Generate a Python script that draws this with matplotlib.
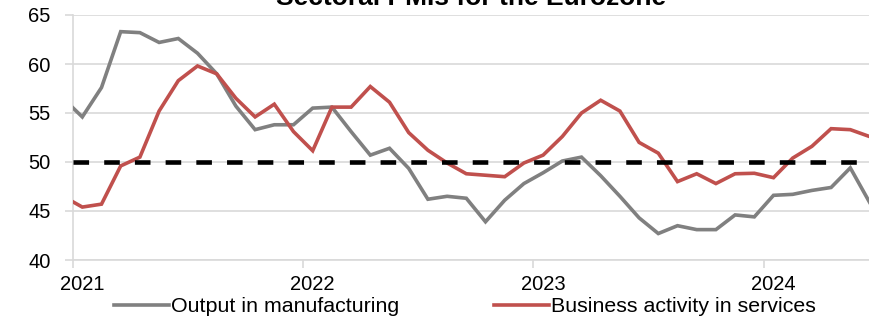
import matplotlib
matplotlib.use("Agg")
from matplotlib import pyplot as plt
import numpy as np

# monthly readings, Dec 2020 .. Jun 2024
months = np.arange(-1, 42) + 0.5  # month centres, 0 = start of Jan 2021

manufacturing = [56.5, 54.6, 57.6, 63.3, 63.2, 62.2, 62.6, 61.1, 59.0, 55.7, 53.3, 53.8, 53.8,
                 55.5, 55.6, 53.1, 50.7, 51.4, 49.35, 46.2, 46.5, 46.3, 43.9, 46.1, 47.8,
                 48.9, 50.1, 50.5, 48.6, 46.5, 44.3, 42.7, 43.5, 43.1, 43.1, 44.6, 44.4,
                 46.6, 46.7, 47.1, 47.4, 49.4, 45.9]
services = [46.5, 45.4, 45.7, 49.6, 50.5, 55.2, 58.3, 59.8, 59.0, 56.5, 54.6, 55.9, 53.1,
            51.15, 55.6, 55.6, 57.7, 56.1, 53.0, 51.2, 49.9, 48.8, 48.65, 48.5, 49.9,
            50.7, 52.6, 55.0, 56.3, 55.2, 52.0, 50.9, 48.0, 48.8, 47.8, 48.8, 48.85,
            48.4, 50.4, 51.6, 53.4, 53.3, 52.6]

year_pos = [0, 12, 24, 36]
year_labels = ['2021', '2022', '2023', '2024']
threshold = 50

plt.rcParams['font.family'] = ['Liberation Sans', 'DejaVu Sans']

fig = plt.figure(figsize=(8.7, 3.2), dpi=100)
ax = fig.add_axes([72.7 / 870, 60 / 320, 796.8 / 870, 245 / 320])

ax.plot(months, manufacturing, color='#808080', lw=2.6, label='Output in manufacturing',
        solid_joinstyle='miter', zorder=3)
ax.plot(months, services, color='#c0504d', lw=2.6, label='Business activity in services',
        solid_joinstyle='miter', zorder=4)
ax.axhline(threshold, color='black', lw=3.3, dashes=(3.4, 3.3), zorder=5)

ax.set_xlim(0, 41.5)
ax.set_ylim(40, 65)
ax.set_yticks(range(40, 66, 5))
ax.grid(axis='y', color='#d9d9d9', lw=1.2)
ax.set_axisbelow(True)

# year ticks at Jan 1st, labels centred on January
ax.set_xticks(year_pos)
ax.set_xticklabels([])
ax.set_xticks([p + 0.5 for p in year_pos], minor=True)
ax.set_xticklabels(year_labels, minor=True)
ax.tick_params(axis='x', which='major', length=6, width=1.2, color='#d9d9d9')
ax.tick_params(axis='x', which='minor', length=0, pad=11, labelsize=14.5)
ax.tick_params(axis='y', length=6, width=1.2, color='#d9d9d9', pad=10, labelsize=14.5)

for s in ['top', 'right']:
    ax.spines[s].set_visible(False)
for s in ['left', 'bottom']:
    ax.spines[s].set_color('#d9d9d9')
    ax.spines[s].set_linewidth(1.2)

fig.text(471 / 870, 1 - 5 / 320, 'Sectoral PMIs for the Eurozone', ha='center',
         va='baseline', fontsize=19, fontweight='bold')

fig.legend(loc='center', bbox_to_anchor=(465 / 870, 1 - 307 / 320), ncol=2, frameon=False,
           fontsize=15.4, handlelength=2.6, handletextpad=0.1, columnspacing=4.4,
           borderpad=0, borderaxespad=0)

fig.savefig('out.png', dpi=100)
